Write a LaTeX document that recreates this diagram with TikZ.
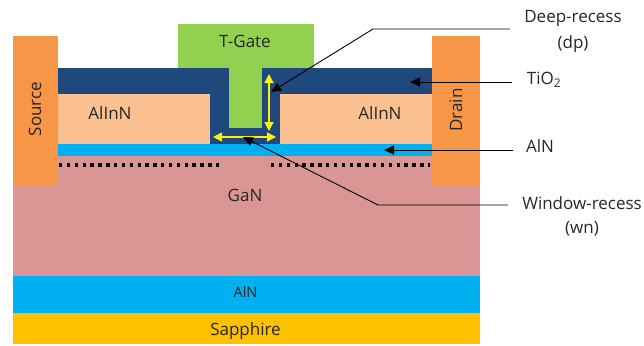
\documentclass[tikz,border=0pt]{standalone}
\usepackage{fontspec}
\setmainfont{Open Sans}
\usetikzlibrary{arrows.meta}
\definecolor{srcO}{HTML}{F79646}
\definecolor{tioB}{HTML}{1F497D}
\definecolor{alinn}{HTML}{FAC090}
\definecolor{alnB}{HTML}{00B0F0}
\definecolor{ganR}{HTML}{D99694}
\definecolor{sapY}{HTML}{FFC000}
\definecolor{gateG}{HTML}{92D050}
\tikzset{
  txt/.style={inner sep=0pt,font=\fontsize{17}{19}\selectfont,text=black!85},
  lead/.style={black,line width=0.9pt},
  tipped/.style={lead,-{Triangle[length=10pt,width=9pt]}},
  yarrow/.style={yellow,line width=1.3pt,{Triangle[length=9pt,width=9pt]}-{Triangle[length=9pt,width=9pt]}},
  dots/.style={black,line width=3.4pt,dash pattern=on 3.4pt off 4.45pt}
}
\begin{document}
\begin{tikzpicture}[x=1pt,y=-1pt]
\useasboundingbox (0,0) rectangle (644,345);
% layers
\fill[sapY] (13,313) rectangle (480,344);
\fill[alnB] (13,276) rectangle (480,313);
\fill[ganR] (13,156) rectangle (480,276);
\fill[alnB] (58,144) rectangle (432,156);
\fill[alinn] (58,94) rectangle (432,144);
\fill[tioB] (58,68) rectangle (432,94);
\fill[tioB] (210,94) rectangle (280,144);
\fill[gateG] (177.5,24) rectangle (314,68);
\fill[gateG] (229,68) rectangle (262,128);
\fill[srcO] (13,36) rectangle (58,185);
\fill[srcO] (432,36) rectangle (480,185);
% 2DEG dots
\coordinate (dl1) at (59,165);
\coordinate (dl2) at (222,165);
\coordinate (dr1) at (271,165);
\coordinate (dr2) at (430,165);
\draw[dots] (dl1) -- (dl2);
\draw[dots] (dr1) -- (dr2);
% yellow arrows
\coordinate (v1) at (269,74);
\coordinate (v2) at (269,131);
\coordinate (h1) at (213,137);
\coordinate (h2) at (276,137);
\draw[yarrow] (v1) -- (v2);
\draw[yarrow] (h1) -- (h2);
% in-picture labels
\node[txt] (gate) at (245,41) {T-Gate};
\node[txt] (ail) at (110,113) {AlInN};
\node[txt] (air) at (380,113) {AlInN};
\node[txt] (gan) at (245,195) {GaN};
\node[txt,font=\fontsize{14.5}{16}\selectfont] (aln2) at (245.5,292) {AlN};
\node[txt] (sap) at (245.5,331) {Sapphire};
\node[txt,rotate=90] (src) at (35,109) {Source};
\node[txt,rotate=90] (drn) at (456,110) {Drain};
% outside labels
\node[txt] (dp) at (573,18) {Deep-recess};
\node[txt] (dpb) at (573,44) {(dp)};
\node[txt] (tio) at (544,80) {TiO\textsubscript{2}};
\node[txt] (aln) at (540,146) {AlN};
\node[txt] (wn) at (582,203) {Window-recess};
\node[txt] (wnb) at (582,229) {(wn)};
% connectors
\coordinate (t0) at (510,29);
\coordinate (t1) at (373,29);
\coordinate (t2) at (271,92);
\coordinate (w0) at (508,205);
\coordinate (w1) at (378,205);
\coordinate (w2) at (243,137);
\coordinate (ti0) at (512,82);
\coordinate (ti) at (410,82);
\coordinate (al0) at (513,150);
\coordinate (al) at (384,150);
\draw[tipped] (t0) -- (t1) -- (t2);
\draw[tipped] (w0) -- (w1) -- (w2);
\draw[tipped] (ti0) -- (ti);
\draw[tipped] (al0) -- (al);
\end{tikzpicture}
\end{document}
